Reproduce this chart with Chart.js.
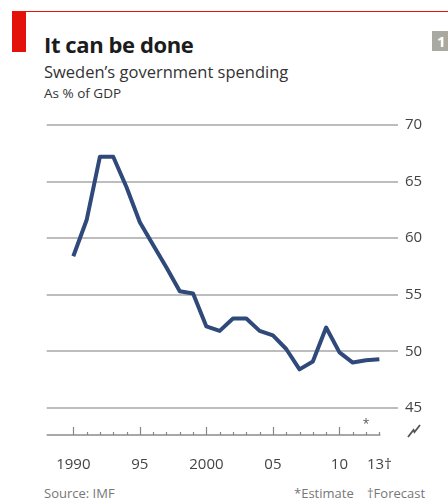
<!DOCTYPE html>
<html>
<head>
<meta charset="utf-8">
<script src="https://cdn.jsdelivr.net/npm/chart.js@4"></script>
<style>
  html, body { margin:0; padding:0; background:#fff; }
  body { width:448px; height:501px; position:relative; overflow:hidden; font-family:"Open Sans", "Noto Sans", sans-serif; }
  #c { position:absolute; left:0; top:0; }
  .t { position:absolute; white-space:nowrap; line-height:1; }
  #redline { position:absolute; left:12px; top:11px; width:436px; height:1px; background:#e3120b; }
  #redbox { position:absolute; left:12px; top:11px; width:14px; height:41px; background:#e3120b; }
  #badge { position:absolute; left:432px; top:31px; width:20px; height:20px; background:#a9a9a2; color:#fff; font-weight:700; font-size:15px; line-height:20px; text-indent:5px; }
</style>
</head>
<body>
<div id="redline"></div>
<div id="redbox"></div>
<div id="badge">1</div>
<div class="t" style="left:44px;top:33px;font-size:22px;font-weight:700;color:#1c1c1c;letter-spacing:-0.4px;">It can be done</div>
<div class="t" style="left:44px;top:64px;font-size:16.5px;color:#333;">Sweden’s government spending</div>
<div class="t" style="left:44px;top:87px;font-size:13.5px;color:#333;">As % of GDP</div>
<div class="t" style="left:44px;top:487px;font-size:13px;color:#777;">Source: IMF</div>
<div class="t" style="left:294px;top:487px;font-size:13px;color:#777;">*Estimate</div>
<div class="t" style="left:367px;top:487px;font-size:13px;color:#777;">†Forecast</div>
<canvas id="c" width="448" height="501"></canvas>
<script>
const years = [1990,1991,1992,1993,1994,1995,1996,1997,1998,1999,2000,2001,2002,2003,2004,2005,2006,2007,2008,2009,2010,2011,2012,2013];
const spending = [58.4,61.6,67.2,67.2,64.5,61.4,59.4,57.4,55.3,55.1,52.2,51.8,52.9,52.9,51.8,51.4,50.2,48.4,49.1,52.1,49.9,49.0,49.2,49.3];
const yTicks = [45,50,55,60,65,70];
const xLabels = {1990:'1990',1995:'95',2000:'2000',2005:'05',2010:'10',2013:'13†'};
const majorYears = [1990,1995,2000,2005,2010];
const estimateYear = 2012;

const decor = {
  id:'decor',
  afterDraw(chart){
    const ctx = chart.ctx, xs = chart.scales.x, ca = chart.chartArea;
    const yb = ca.bottom;
    ctx.save();
    ctx.strokeStyle = '#a8a8a8';
    ctx.lineWidth = 2;
    ctx.beginPath();
    ctx.moveTo(xs.getPixelForValue(1988), yb);
    ctx.lineTo(xs.getPixelForValue(2013)+1, yb);
    ctx.stroke();
    ctx.lineWidth = 1.2;
    ctx.strokeStyle = '#888';
    for (let yr = 1990; yr <= 2013; yr++) {
      const px = Math.round(xs.getPixelForValue(yr)) + 0.5;
      const len = majorYears.includes(yr) ? 8 : 3;
      ctx.beginPath();
      ctx.moveTo(px, yb);
      ctx.lineTo(px, yb - len);
      ctx.stroke();
    }
    ctx.fillStyle = '#555';
    ctx.font = '12px "Open Sans", sans-serif';
    ctx.textAlign = 'center';
    ctx.textBaseline = 'middle';
    ctx.fillText('*', xs.getPixelForValue(estimateYear), yb - 10);
    // axis break mark
    ctx.strokeStyle = '#555';
    ctx.lineWidth = 1.8;
    ctx.beginPath();
    ctx.moveTo(408, 437);
    ctx.lineTo(413.5, 430);
    ctx.lineTo(414.5, 432);
    ctx.lineTo(420, 425);
    ctx.stroke();
    ctx.restore();
  }
};

new Chart(document.getElementById('c'), {
  type:'line',
  data:{
    datasets:[{
      data: years.map((y,i)=>({x:y, y:spending[i]})),
      borderColor:'#2f4a7a',
      borderWidth:4,
      pointRadius:0,
      tension:0,
      borderJoinStyle:'round',
      borderCapStyle:'butt',
      fill:false
    }]
  },
  options:{
    responsive:false,
    animation:false,
    devicePixelRatio:1,
    plugins:{ legend:{display:false}, tooltip:{enabled:false} },
    layout:{ padding:{ left:46.7, top:125, right:0, bottom:20 } },
    scales:{
      x:{
        type:'linear',
        min:1988, max:2014.4,
        grid:{ display:false },
        border:{ display:false },
        afterFit(s){ s.height = 501 - 435 - 20; },
        ticks:{
          stepSize:1,
          autoSkip:false,
          maxRotation:0,
          padding:13,
          color:'#444',
          font:{ family:'"Open Sans", sans-serif', size:15 },
          callback:(v)=> xLabels[v] || ''
        }
      },
      y:{
        position:'right',
        min:42.6, max:70,
        afterFit(s){ s.width = 448 - 398; },
        afterBuildTicks(s){ s.ticks = yTicks.map(v=>({value:v})); },
        grid:{ color:'#bdbdbd', lineWidth:2, drawTicks:false },
        border:{ display:false },
        ticks:{
          padding:7,
          color:'#444',
          font:{ family:'"Open Sans", sans-serif', size:15 },
          callback:(v)=> String(v)
        }
      }
    }
  },
  plugins:[decor]
});
</script>
</body>
</html>
